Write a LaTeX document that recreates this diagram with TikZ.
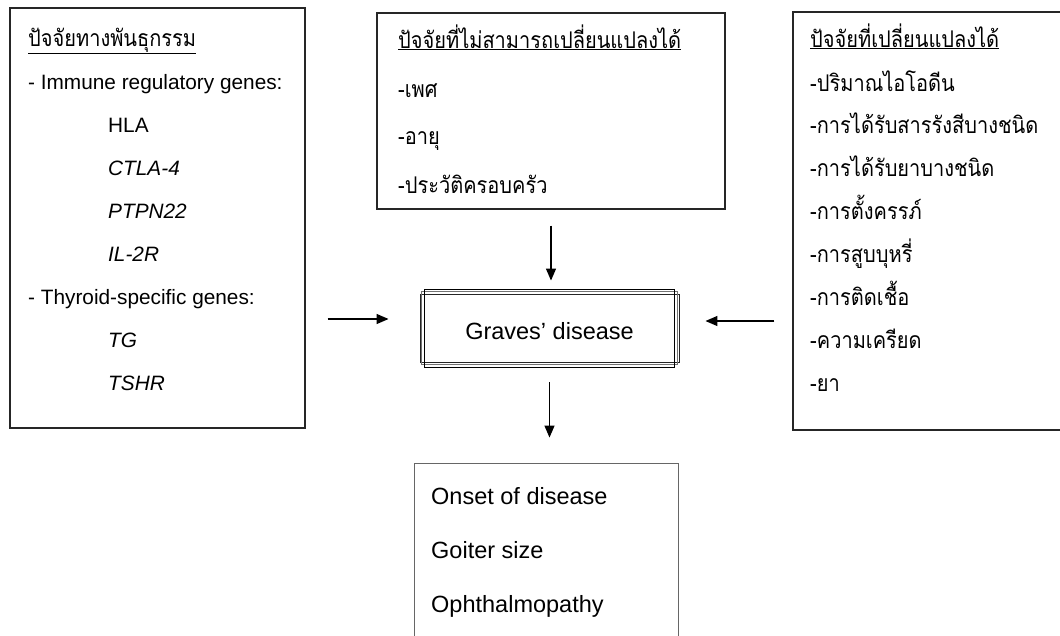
\documentclass[tikz,border=0pt]{standalone}
\usepackage{fontspec}
\setmainfont{Liberation Sans}
\newfontfamily\thai[Script=Thai, FakeStretch=0.87]{Loma}
\usetikzlibrary{arrows.meta}

\tikzset{
  box/.style={draw=black!85, line width=1.3pt, inner sep=0pt},
  txt/.style={anchor=base west, inner sep=0pt, font=\fontsize{20.8}{24}\selectfont},
  bigtxt/.style={anchor=base west, inner sep=0pt, font=\fontsize{23.5}{28}\selectfont},
  thtxt/.style={anchor=base west, inner sep=0pt, font=\fontsize{23}{27}\selectfont\thai},
  arr/.style={line width=1.3pt, -{Triangle[length=12pt,width=10pt]}}
}

\begin{document}
\begin{tikzpicture}[x=1pt, y=-1pt]
\useasboundingbox (0,0) rectangle (1060,635);
% boxes
\node[box, minimum width=295pt, minimum height=420pt] (genbox) at (157.5,218) {};
\node[box, minimum width=348pt, minimum height=196pt] (nochg) at (551,111) {};
\node[box, minimum width=280pt, minimum height=418pt] (chg) at (933,221) {};
\node[box, draw=black!60, line width=0.9pt, minimum width=264pt, minimum height=217pt] (outcome) at (546,571.5) {};
\node[box, line width=0.9pt, minimum width=259pt, minimum height=68pt] (graves) at (549.5,328) {};
\draw[black!55, line width=0.9pt] ([shift={(2.3,2.3)}]graves.south west) rectangle ([shift={(-2.3,-2.3)}]graves.north east);
\draw[line width=0.9pt] ([shift={(4.6,4.6)}]graves.south west) rectangle ([shift={(-4.6,-4.6)}]graves.north east);
\node[font=\fontsize{23.5}{28}\selectfont, anchor=base, inner sep=0pt] (gravestxt) at (549.5,339) {Graves’ disease};

% left box: genetic factors
\node[thtxt] (gtitle) at (28,46) {\underline{ปัจจัยทางพันธุกรรม}};
\node[txt] (gimm) at (28,89) {- Immune regulatory genes:};
\node[txt] (ghla) at (108,132) {HLA};
\node[txt] (gctla) at (108,175) {\itshape CTLA-4};
\node[txt] (gptpn) at (108,218) {\itshape PTPN22};
\node[txt] (gil) at (108,261) {\itshape IL-2R};
\node[txt] (gthy) at (28,304) {- Thyroid-specific genes:};
\node[txt] (gtg) at (108,347) {\itshape TG};
\node[txt] (gtshr) at (108,390) {\itshape TSHR};

% top box: factors that cannot change
\node[thtxt] (ntitle) at (398,48) {\underline{ปัจจัยที่ไม่สามารถเปลี่ยนแปลงได้}};
\node[thtxt] (nsex) at (398,97) {-เพศ};
\node[thtxt] (nage) at (398,144) {-อายุ};
\node[thtxt] (nfam) at (398,193) {-ประวัติครอบครัว};

% right box: factors that can change
\node[thtxt] (ctitle) at (810,47) {\underline{ปัจจัยที่เปลี่ยนแปลงได้}};
\node[thtxt] (c1) at (810,91) {-ปริมาณไอโอดีน};
\node[thtxt] (c2) at (810,133) {-การได้รับสารรังสีบางชนิด};
\node[thtxt] (c3) at (810,176) {-การได้รับยาบางชนิด};
\node[thtxt] (c4) at (810,219) {-การตั้งครรภ์};
\node[thtxt] (c5) at (810,262) {-การสูบบุหรี่};
\node[thtxt] (c6) at (810,305) {-การติดเชื้อ};
\node[thtxt] (c7) at (810,348) {-ความเครียด};
\node[thtxt] (c8) at (810,391) {-ยา};

% bottom box
\node[bigtxt] (oonset) at (431,504) {Onset of disease};
\node[bigtxt] (ogoiter) at (431,558) {Goiter size};
\node[bigtxt] (ooph) at (431,612) {Ophthalmopathy};

% arrows
\coordinate (gin) at ([yshift=9pt]graves.west);
\coordinate (cin) at ([yshift=7pt]graves.east);
\draw[arr, shorten <=16pt, shorten >=13pt] (nochg.south) -- (nochg.south |- graves.north);
\draw[arr, shorten <=22pt, shorten >=31pt] (genbox.east |- gin) -- (gin);
\draw[arr, shorten <=18pt, shorten >=26pt] (chg.west |- cin) -- (cin);
\draw[arr, shorten <=20pt, shorten >=25pt] (graves.south) -- (graves.south |- outcome.north);
\end{tikzpicture}
\end{document}
